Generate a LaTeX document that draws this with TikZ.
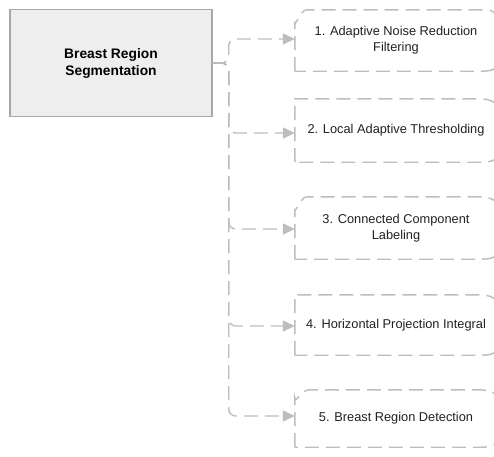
\documentclass[tikz,border=0pt]{standalone}
\usepackage{fontspec}
\setmainfont{Liberation Sans}
\usetikzlibrary{arrows.meta}
\definecolor{dashgray}{HTML}{BDBDBD}
\definecolor{mainborder}{HTML}{A8A8A8}
\definecolor{mainfill}{HTML}{EEEEEE}
\definecolor{txt}{HTML}{222222}
\tikzset{
  mainbox/.style={draw=mainborder, fill=mainfill, line width=1.4pt, minimum width=202pt, minimum height=107pt, align=center, text=black, font=\fontsize{13.8}{17}\selectfont\bfseries, inner sep=0pt},
  stepbox/.style={minimum width=202pt, align=center, text=txt, font=\fontsize{12.8}{16}\selectfont, inner sep=0pt},
  dashline/.style={draw=dashgray, line width=1.4pt, dash pattern=on 14pt off 7pt},
  link/.style={dashline, rounded corners=7pt, -{Triangle[length=12pt,width=11pt,fill=dashgray]}},
}
\begin{document}
\begin{tikzpicture}[x=1pt,y=-1pt]
\clip (0,0) rectangle (494,456);
\fill[white] (0,0) rectangle (494,456);
\node[mainbox] (main) at (111,63) {Breast Region\\Segmentation};
\node[stepbox, minimum height=61pt] (s1) at (396,40.5) {1. Adaptive Noise Reduction\\Filtering};
\node[stepbox, minimum height=63pt] (s2) at (396,130.5) {2. Local Adaptive Thresholding};
\node[stepbox, minimum height=62pt] (s3) at (396,228) {3. Connected Component\\Labeling};
\node[stepbox, minimum height=60pt] (s4) at (396,325) {4. Horizontal Projection Integral};
\node[stepbox, minimum height=57pt] (s5) at (396,418.5) {5. Breast Region Detection};
% sketchy dashed borders
\draw[dashline] (s1.south west) -- ([yshift=-12pt]s1.north west) to[out=-90,in=180] ([xshift=12pt]s1.north west) -- ([xshift=-10pt]s1.north east) to[out=0,in=90] ([yshift=-10pt]s1.north east) -- ([yshift=8pt]s1.south east) to[out=-90,in=0] ([xshift=-20pt]s1.south east) -- cycle;
\draw[dashline] (s2.south west) -- (s2.north west) -- ([xshift=-20pt]s2.north east) to[out=0,in=90] ([yshift=-10pt]s2.north east) -- ([yshift=8pt]s2.south east) to[out=-90,in=0] ([xshift=-20pt]s2.south east) -- cycle;
\draw[dashline] (s3.south west) -- ([yshift=-12pt]s3.north west) to[out=-90,in=180] ([xshift=12pt]s3.north west) -- ([xshift=-20pt]s3.north east) to[out=0,in=90] ([yshift=-10pt]s3.north east) -- ([yshift=8pt]s3.south east) to[out=-90,in=0] ([xshift=-20pt]s3.south east) -- cycle;
\draw[dashline] (s4.south west) -- (s4.north west) -- ([xshift=-20pt]s4.north east) to[out=0,in=90] ([yshift=-10pt]s4.north east) -- ([yshift=8pt]s4.south east) to[out=-90,in=0] ([xshift=-20pt]s4.south east) -- cycle;
\draw[dashline] (s5.south west) -- ([yshift=-8pt]s5.north west) to[out=-90,in=180] ([xshift=14pt]s5.north west) -- ([xshift=-20pt]s5.north east) to[out=0,in=90] ([yshift=-10pt]s5.north east) -- ([yshift=8pt]s5.south east) to[out=-90,in=0] ([xshift=-20pt]s5.south east) -- cycle;
% connectors
\draw[link] (main.east) -- ++(16,0) |- ([yshift=1.5pt]s1.west);
\draw[link] (main.east) -- ++(16,0) |- ([yshift=-2.5pt]s2.west);
\draw[link] (main.east) -- ++(16,0) |- ([yshift=-1pt]s3.west);
\draw[link] (main.east) -- ++(16,0) |- ([yshift=-1pt]s4.west);
\draw[link] (main.east) -- ++(16,0) |- ([yshift=2.5pt]s5.west);
\end{tikzpicture}
\end{document}
